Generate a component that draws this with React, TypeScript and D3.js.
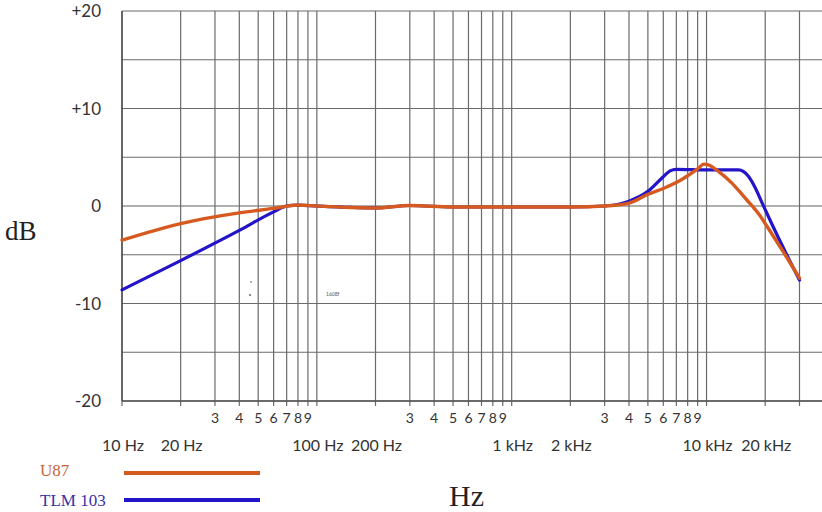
import React from "react";
import * as d3 from "d3";

const u87Freq = [10, 20, 40, 60, 80, 100, 150, 200, 300, 500, 1000, 2000, 3000, 4000, 5000, 6000, 7000, 8000, 9000, 9700, 10300, 11500, 13500, 15800, 18500, 21700, 25500, 30000];
const u87Db = [-3.5, -1.8, -0.7, -0.25, 0.1, 0.0, -0.15, -0.2, 0.05, -0.1, -0.1, -0.1, 0.0, 0.3, 1.2, 1.8, 2.4, 3.1, 3.8, 4.3, 4.2, 3.55, 2.35, 0.8, -0.8, -2.9, -5.1, -7.4];

const tlmFreq = [10, 20, 40, 60, 70, 80, 100, 150, 200, 300, 500, 1000, 2000, 3000, 4000, 5000, 6000, 6500, 7000, 10000, 14600, 16400, 17800, 19300, 21700, 25500, 30000];
const tlmDb = [-8.6, -5.6, -2.5, -0.6, 0.0, 0.1, 0.0, -0.15, -0.2, 0.05, -0.1, -0.1, -0.1, 0.0, 0.5, 1.5, 3.0, 3.6, 3.75, 3.7, 3.7, 3.05, 1.85, 0.3, -1.9, -4.8, -7.6];

const yTickValues = [20, 10, 0, -10, -20];
const yTickLabels = ["+20", "+10", "0", "-10", "-20"];
const gridDb = [20, 15, 10, 5, 0, -5, -10, -15, -20];
const gridFreq = [10, 20, 30, 40, 50, 60, 70, 80, 90, 100, 200, 300, 400, 500, 600, 700, 800, 900, 1000, 2000, 3000, 4000, 5000, 6000, 7000, 8000, 9000, 10000, 20000, 30000];
const minorLabelDigits = ["3", "4", "5", "6", "7", "8", "9"];
const decades = [10, 100, 1000];
const majorFreq = [10, 20, 100, 200, 1000, 2000, 10000, 20000];
const majorLabels = ["10 Hz", "20 Hz", "100 Hz", "200 Hz", "1 kHz", "2 kHz", "10 kHz", "20 kHz"];
const seriesNames = ["U87", "TLM 103"];

const ORANGE = "#d65a1f";
const BLUE = "#2414c8";

export default function App() {
  React.useEffect(() => {
    document.body.style.margin = "0";
  }, []);
  const W = 822, H = 512;
  const left = 122, right = 799.5, top = 11, bottom = 401;
  const x = d3.scaleLog().domain([10, 30000]).range([left, right]);
  const y = d3.scaleLinear().domain([-20, 20]).range([bottom, top]);
  const line = d3
    .line<[number, number]>()
    .x((d) => x(d[0]))
    .y((d) => y(d[1]))
    .curve(d3.curveMonotoneX);
  const u87 = u87Freq.map((f, i) => [f, u87Db[i]] as [number, number]);
  const tlm = tlmFreq.map((f, i) => [f, tlmDb[i]] as [number, number]);
  const sans = "Lato, 'Open Sans', sans-serif";
  const serif = "'Liberation Serif', 'DejaVu Serif', serif";

  return (
    <svg width={W} height={H} style={{ position: "absolute", left: 0, top: 0, background: "#fff" }}>
      {/* horizontal gridlines */}
      {gridDb.map((v) => (
        <line
          key={"h" + v}
          x1={left}
          x2={W}
          y1={y(v)}
          y2={y(v)}
          stroke={v === 0 ? "#b0b0b0" : "#6a6a6a"}
          strokeWidth={v === 0 ? 2 : 1.2}
        />
      ))}
      {/* vertical gridlines */}
      {gridFreq.map((f) => (
        <line key={"v" + f} x1={x(f)} x2={x(f)} y1={top} y2={bottom + 5} stroke="#6a6a6a" strokeWidth={1.2} />
      ))}
      <line x1={left} x2={left} y1={top} y2={bottom} stroke="#444" strokeWidth={1.3} />
      <line x1={left} x2={W} y1={bottom} y2={bottom} stroke="#555" strokeWidth={1.3} />

      {/* y labels */}
      {yTickValues.map((v, i) => (
        <text key={"yl" + v} x={101} y={y(v) + 6} textAnchor="end" fontFamily={sans} fontSize={17} fill="#333">
          {yTickLabels[i]}
        </text>
      ))}
      <text x={5} y={240} fontFamily={serif} fontSize={27} fill="#222">dB</text>

      {/* minor x labels */}
      {decades.map((dec) =>
        minorLabelDigits.map((d) => (
          <text key={"m" + dec + d} x={x(dec * +d)} y={423} textAnchor="middle" fontFamily={sans} fontSize={14} fill="#333">
            {d}
          </text>
        ))
      )}
      {majorFreq.map((f, i) => (
        <text key={"M" + f} x={x(f) + 1} y={451} textAnchor="middle" fontFamily={sans} fontSize={16} fill="#333">
          {majorLabels[i]}
        </text>
      ))}
      <text x={449} y={506} fontFamily={serif} fontSize={30} fill="#222">Hz</text>

      {/* artifacts */}
      <circle cx={251} cy={282} r={0.8} fill="#555" />
      <circle cx={250} cy={295} r={0.9} fill="#555" />
      <text x={326} y={296} fontFamily={sans} fontSize={5} fill="#555">1608f</text>

      {/* curves */}
      <path d={line(tlm) || ""} fill="none" stroke={BLUE} strokeWidth={3.2} strokeLinejoin="round" strokeLinecap="round" />
      <path d={line(u87) || ""} fill="none" stroke={ORANGE} strokeWidth={3.4} strokeLinejoin="round" strokeLinecap="round" />

      {/* legend */}
      <text x={40} y={476} fontFamily={serif} fontSize={17} fill="#c8643c">{seriesNames[0]}</text>
      <line x1={124} x2={260} y1={473} y2={473} stroke={ORANGE} strokeWidth={4} />
      <text x={40} y={506} fontFamily={serif} fontSize={17} fill="#3a2fa8">{seriesNames[1]}</text>
      <line x1={124} x2={260} y1={500} y2={500} stroke={BLUE} strokeWidth={4} />
    </svg>
  );
}
